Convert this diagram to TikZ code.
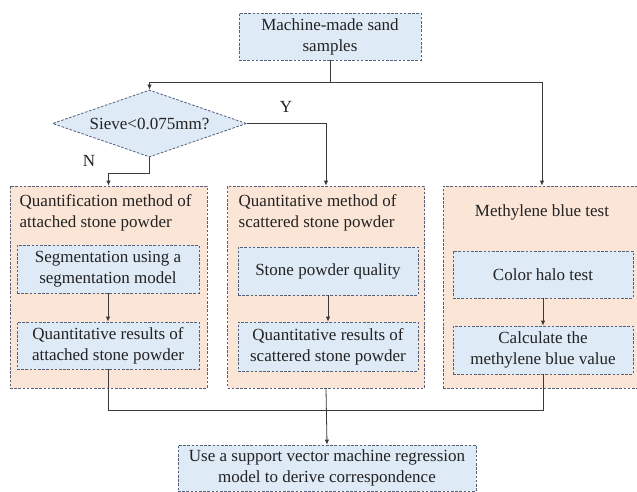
\documentclass[tikz,border=0pt]{standalone}
\usepackage{fontspec}
\setmainfont{Liberation Serif}
\usetikzlibrary{shapes.geometric,arrows.meta}
\definecolor{bfill}{HTML}{DEEAF6}
\definecolor{ofill}{HTML}{FBE5D6}
\definecolor{bord}{HTML}{55607A}
\definecolor{lcol}{HTML}{3A3A3A}
\definecolor{tcol}{HTML}{222222}
\tikzset{
  bluebox/.style={draw=bord, fill=bfill, dash pattern=on 2.6pt off 1.6pt, line width=0.8pt, rectangle, inner sep=0pt, align=center, text=tcol},
  orangebox/.style={draw=bord, fill=ofill, dash pattern=on 2.6pt off 1.6pt, line width=0.8pt, rectangle, inner sep=0pt},
  lbl/.style={inner sep=0pt, text=tcol},
  conn/.style={draw=lcol, line width=0.8pt},
  arr/.style={conn, -{Latex[length=5pt,width=4.5pt]}}
}
\begin{document}
\begin{tikzpicture}[x=1pt,y=-1pt,font=\fontsize{17}{21}\selectfont]
\clip (0,0) rectangle (637,492);
\fill[white] (0,0) rectangle (637,492);
% top
\node[bluebox, minimum width=182pt, minimum height=47pt] (top) at (330,36.5) {Machine-made sand\\samples};
% diamond
\node[draw=bord, fill=bfill, dash pattern=on 2.6pt off 1.6pt, line width=0.8pt, diamond, aspect=2.9, minimum width=194pt, minimum height=67pt, inner sep=0pt, text=tcol] (dia) at (149.5,123.5) {Sieve<0.075mm?};
% orange containers
\node[orangebox, minimum width=197pt, minimum height=202pt] (o1) at (108.5,287) {};
\node[orangebox, minimum width=197pt, minimum height=202pt] (o2) at (326,287) {};
\node[orangebox, minimum width=198pt, minimum height=202pt] (o3) at (542,287) {};
% titles
\node[lbl, anchor=west, align=left] (t1) at (19.5,212.5) {Quantification method of\\attached stone powder};
\node[lbl, anchor=west, align=left] (t2) at (238.5,212.5) {Quantitative method of\\scattered stone powder};
\node[lbl] (t3) at (542,212.5) {Methylene blue test};
% inner boxes
\node[bluebox, minimum width=182pt, minimum height=48pt] (a1) at (108,269) {Segmentation using a\\segmentation model};
\node[bluebox, minimum width=182pt, minimum height=47pt] (b1) at (108,345.5) {Quantitative results of\\attached stone powder};
\node[bluebox, minimum width=180pt, minimum height=48pt] (a2) at (328,271) {Stone powder quality};
\node[bluebox, minimum width=180pt, minimum height=49pt] (b2) at (328,346.5) {Quantitative results of\\scattered stone powder};
\node[bluebox, minimum width=180pt, minimum height=47pt] (a3) at (543,274.5) {Color halo test};
\node[bluebox, minimum width=180pt, minimum height=48pt] (b3) at (543,350) {Calculate the\\methylene blue value};
% final
\node[bluebox, minimum width=298pt, minimum height=46pt] (fin) at (327,468) {Use a support vector machine regression\\model to derive correspondence};
% junctions
\coordinate (jL) at (149.5,82);
\coordinate (jR) at (542,82);
\coordinate (hb) at (0,410);
\coordinate (nk) at (0,173);
% connectors
\draw[conn] (top.south) -- (top.south |- jL);
\draw[arr] (top.south |- jL) -- (jL) -- (dia.north);
\draw[arr] (top.south |- jR) -- (jR) -- (o3.north);
\draw[arr] (dia.east) -- (dia.east -| o2.north) -- (o2.north);
\draw[arr] (dia.south) -- (dia.south |- nk) -- (o1.north |- nk) -- (o1.north);
\draw[arr] (a1) -- (b1);
\draw[arr] (a2) -- (b2);
\draw[arr] (a3) -- (b3);
\draw[conn] (b1.south) -- (b1.south |- hb) -- (b3.south |- hb) -- (b3.south);
\draw[arr] (o2.south) -- (fin.north);
% branch labels
\node[lbl] (ly) at (286,107) {Y};
\node[lbl] (ln) at (89,161) {N};
\end{tikzpicture}
\end{document}
